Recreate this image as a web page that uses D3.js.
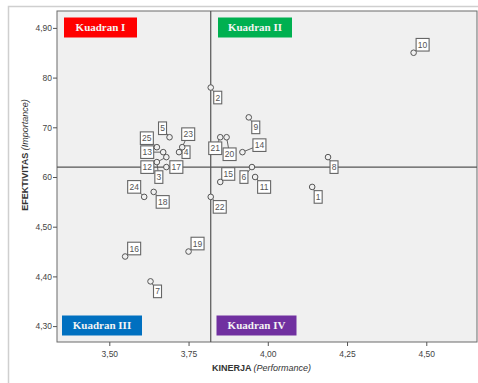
<!DOCTYPE html>
<html><head><meta charset="utf-8">
<script src="https://cdn.jsdelivr.net/npm/d3@7"></script>
<style>body{margin:0;background:#fff}svg{display:block}</style>
</head><body>
<svg id="c" width="478" height="383"></svg>
<script>
// ---- data ----
const ids        = [1,2,3,4,5,6,7,8,9,10,11,12,13,14,15,16,17,18,19,20,21,22,23,24,25];
const kinerja    = [4.14,3.82,3.65,3.72,3.69,3.95,3.63,4.19,3.94,4.46,3.96,3.68,3.67,3.92,3.85,3.55,3.68,3.64,3.75,3.87,3.85,3.82,3.73,3.61,3.65];
const efektivitas= [4.58,4.78,4.63,4.65,4.68,4.62,4.39,4.64,4.72,4.85,4.60,4.64,4.65,4.65,4.59,4.44,4.62,4.57,4.45,4.68,4.68,4.56,4.66,4.56,4.66];
const xTicks = [3.50,3.75,4.00,4.25,4.50];
const xTickLabels = ["3,50","3,75","4,00","4,25","4,50"];
const yTicks = [4.90,4.80,4.70,4.60,4.50,4.40,4.30];
const yTickLabels = ["4,90","80","70","60","4,50","4,40","4,30"];
const refX = 3.82, refY = 4.62;
const quadrants = ["Kuadran I","Kuadran II","Kuadran III","Kuadran IV"];

// ---- layout / style ----
const L=57, R=477, T=11, B=342;
const svg = d3.select("#c");
const x = d3.scaleLinear().domain([3.335,4.66]).range([L,R]);
const y = d3.scaleLinear().domain([4.268,4.934]).range([B,T]);

// outer frame
svg.append("path").attr("d",`M8.5,383 V6.5 H478`).attr("fill","none").attr("stroke","#cfcfcf").attr("stroke-width",1.5);

// plot background
svg.append("rect").attr("x",L).attr("y",T).attr("width",R-L).attr("height",B-T)
  .attr("fill","#f0f0f0").attr("stroke","#6b6b6b").attr("stroke-width",1);

// axes
const xAxis = d3.axisBottom(x).tickValues(xTicks).tickFormat((d,i)=>xTickLabels[i]).tickSize(4).tickSizeOuter(0);
const gx = svg.append("g").attr("transform",`translate(0,${B})`).call(xAxis);
gx.select(".domain").remove();
gx.selectAll("line").attr("stroke","#555");
gx.selectAll("text").attr("fill","#444").attr("font-size","8.5px").attr("font-family","Liberation Sans, Arial, sans-serif").attr("dy","0.9em");

const yAxis = d3.axisLeft(y).tickValues(yTicks).tickFormat((d,i)=>yTickLabels[i]).tickSize(4).tickSizeOuter(0);
const gy = svg.append("g").attr("transform",`translate(${L},0)`).call(yAxis);
gy.select(".domain").remove();
gy.selectAll("line").attr("stroke","#555");
gy.selectAll("text").attr("fill","#444").attr("font-size","8.5px").attr("font-family","Liberation Sans, Arial, sans-serif").attr("x",-5);

// reference lines
svg.append("line").attr("x1",x(refX)).attr("x2",x(refX)).attr("y1",T).attr("y2",B).attr("stroke","#555").attr("stroke-width",1.2);
svg.append("line").attr("x1",L).attr("x2",R).attr("y1",y(refY)).attr("y2",y(refY)).attr("stroke","#555").attr("stroke-width",1.2);

// quadrant badges
const badgeStyle = [
  {fill:"#ff0000", x0:64,  y0:17.5, w:73, h:20},
  {fill:"#00b050", x0:218, y0:17.5, w:74, h:20},
  {fill:"#0070c0", x0:62,  y0:315.5,w:80, h:20},
  {fill:"#7030a0", x0:216.5,y0:315.5,w:80, h:20}
];
quadrants.forEach((q,i)=>{
  const s = badgeStyle[i];
  svg.append("rect").attr("x",s.x0).attr("y",s.y0).attr("width",s.w).attr("height",s.h).attr("fill",s.fill);
  svg.append("text").attr("x",s.x0+s.w/2).attr("y",s.y0+s.h/2).attr("dy","0.36em")
    .attr("text-anchor","middle").attr("fill","#f4f4f4").attr("font-weight","bold")
    .attr("font-family","Liberation Serif, Times New Roman, serif").attr("font-size","11px").text(q);
});

// label offsets (px) relative to point
const off = {1:[6,10],2:[7,10],3:[2,15],4:[7,0],5:[-7,-9],6:[-8,10],7:[7,10],8:[6,10],9:[7,10],10:[9,-8],
  11:[9,10],12:[-19,10],13:[-16,0],14:[17,-7],15:[8,-8],16:[9,-8],17:[10,0],18:[9,10],19:[9,-8],20:[3,17],
  21:[-5,11],22:[9,10],23:[6,-13],24:[-10,-10],25:[-10,-9]};

const pts = ids.map((id,i)=>({id, kx:kinerja[i], ey:efektivitas[i]}));
const g = svg.append("g");
// connectors
g.selectAll("line.c").data(pts).join("line")
  .attr("x1",d=>x(d.kx)).attr("y1",d=>y(d.ey))
  .attr("x2",d=>x(d.kx)+off[d.id][0]).attr("y2",d=>y(d.ey)+off[d.id][1])
  .attr("stroke","#555").attr("stroke-width",0.9);
// label boxes
const lab = g.selectAll("g.l").data(pts).join("g")
  .attr("transform",d=>`translate(${x(d.kx)+off[d.id][0]},${y(d.ey)+off[d.id][1]})`);
lab.append("rect")
  .attr("x",d=>String(d.id).length>1?-6.5:-4).attr("y",-6.3)
  .attr("width",d=>String(d.id).length>1?13:8).attr("height",12.6)
  .attr("fill","#fff").attr("stroke","#666").attr("stroke-width",1.1);
lab.append("text").attr("text-anchor","middle").attr("dy","0.35em")
  .attr("font-size","8.5px").attr("font-family","Liberation Sans, Arial, sans-serif").attr("fill","#555")
  .text(d=>d.id);
// points
g.selectAll("circle").data(pts).join("circle")
  .attr("cx",d=>x(d.kx)).attr("cy",d=>y(d.ey)).attr("r",2.8)
  .attr("fill","#f0f0f0").attr("stroke","#555").attr("stroke-width",1);

// axis titles
const xt = svg.append("text").attr("x",261.5).attr("y",371).attr("text-anchor","middle")
  .attr("font-size","9px").attr("font-family","Liberation Sans, Arial, sans-serif").attr("fill","#333");
xt.append("tspan").attr("font-weight","bold").text("KINERJA ");
xt.append("tspan").attr("font-style","italic").text("(Performance)");

const yt = svg.append("text").attr("transform","translate(28,155) rotate(-90)").attr("text-anchor","middle")
  .attr("font-size","9px").attr("font-family","Liberation Sans, Arial, sans-serif").attr("fill","#333");
yt.append("tspan").attr("font-weight","bold").text("EFEKTIVITAS ");
yt.append("tspan").attr("font-style","italic").text("(Importance)");
</script>
</body></html>
